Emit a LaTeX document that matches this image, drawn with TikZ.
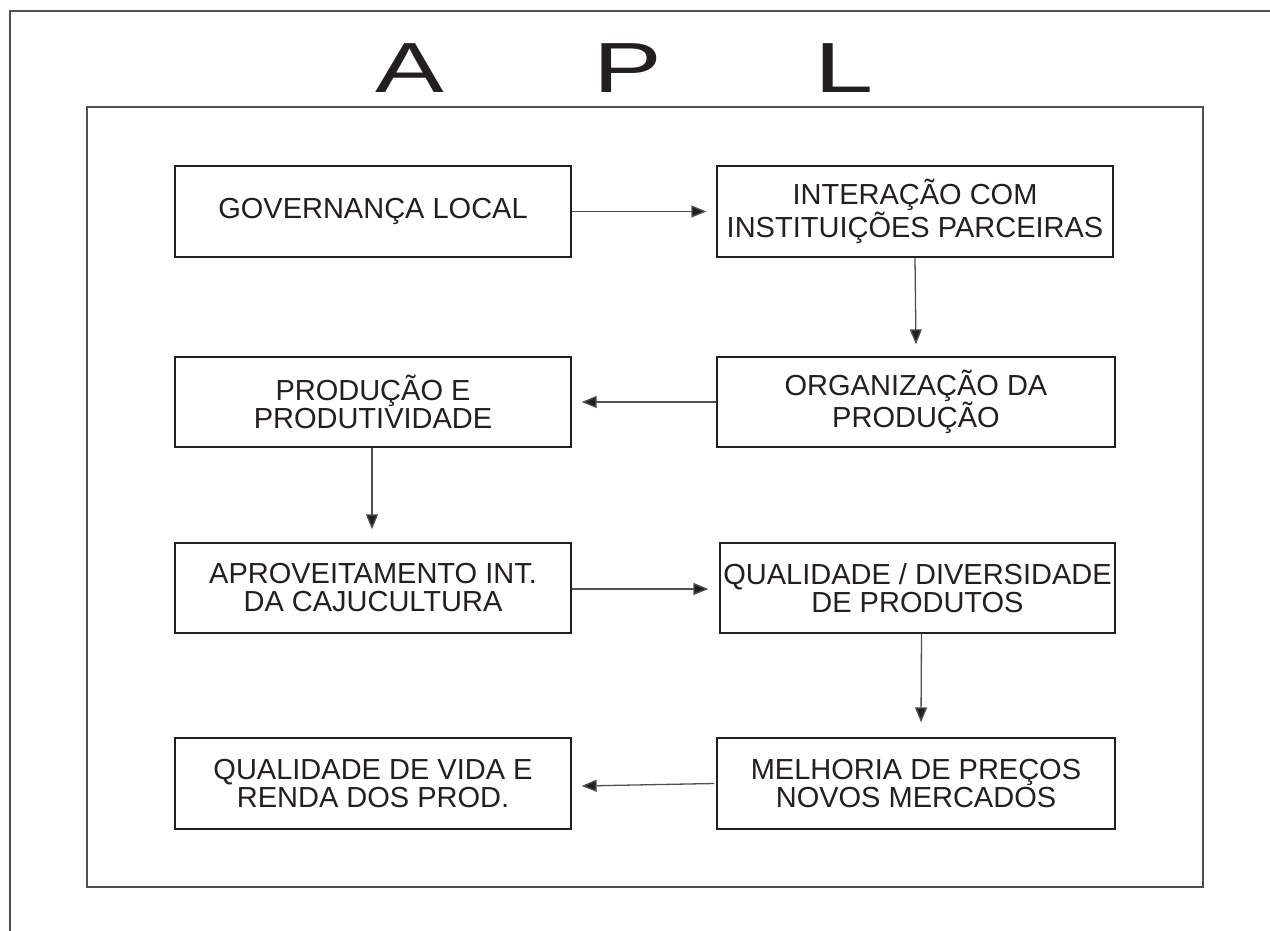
\documentclass[tikz,border=0pt]{standalone}
\usepackage{graphicx}
\usepackage{fontspec}
\setmainfont{Liberation Sans}
\usetikzlibrary{arrows.meta}
\definecolor{ink}{HTML}{231F20}
\definecolor{rule}{HTML}{505050}
\tikzset{
  stepbox/.style={draw=ink, line width=1.3pt, minimum width=396pt, minimum height=91pt,
    align=center, inner sep=0pt, text=ink, font=\fontsize{29}{28}\selectfont},
  titlechar/.style={anchor=base, text=ink, inner sep=0pt, font=\fontsize{71}{71}\selectfont},
  link/.style={draw=rule, line width=1.3pt, -{Triangle[length=15pt,width=12pt,fill=ink]}},
  frame/.style={draw=rule, line width=1.3pt}
}
\begin{document}
\begin{tikzpicture}[x=1pt,y=-1pt]
\useasboundingbox (0,0) rectangle (1270,931);
% outer frame (only top and left sides visible)
\coordinate (o1) at (10,931);
\coordinate (o2) at (10,11);
\coordinate (o3) at (1270,11);
\draw[frame] (o1) -- (o2) -- (o3);
% inner frame
\coordinate (f1) at (87,107);
\coordinate (f2) at (1203,887);
\draw[frame] (f1) rectangle (f2);
% title
\node[titlechar] (tA) at (410,93) {\scalebox{1.45}[1]{A}};
\node[titlechar] (tP) at (628,93) {\scalebox{1.45}[1]{P}};
\node[titlechar] (tL) at (844,93) {\scalebox{1.5}[1]{L}};
% boxes
\node[stepbox] (b1) at (373,211.5) {GOVERNANÇA LOCAL};
\node[stepbox] (b2) at (915,211.5) {INTERAÇÃO COM\\INSTITUIÇÕES PARCEIRAS};
\node[stepbox, minimum width=398pt, minimum height=90pt] (b3) at (916,402) {ORGANIZAÇÃO DA\\PRODUÇÃO};
\node[stepbox, minimum height=90pt] (b4) at (373,402) {PRODUÇÃO E\\PRODUTIVIDADE};
\node[stepbox, minimum height=90pt] (b5) at (373,588) {APROVEITAMENTO INT.\\DA CAJUCULTURA};
\node[stepbox, minimum width=395pt, minimum height=90pt] (b6) at (917.5,588) {QUALIDADE / DIVERSIDADE\\DE PRODUTOS};
\node[stepbox, minimum width=398pt] (b7) at (916,783.5) {MELHORIA DE PREÇOS\\NOVOS MERCADOS};
\node[stepbox] (b8) at (373,783.5) {QUALIDADE DE VIDA E\\RENDA DOS PROD.};
% connectors
\draw[link] (b1.east) -- ([xshift=-10pt]b2.west);
\draw[link] (b2.south) -- ([yshift=12pt]b3.north);
\draw[link] (b3.west) -- ([xshift=10pt]b4.east);
\draw[link] ([xshift=-1pt]b4.south) -- ([xshift=-1pt,yshift=13pt]b5.north);
\draw[link] ([yshift=-1pt]b5.east) -- ([xshift=-11pt,yshift=-1pt]b6.west);
\draw[link] ([xshift=4pt]b6.south) -- ([xshift=5pt,yshift=15pt]b7.north);
\draw[link] ([xshift=-2pt]b7.west) -- ([xshift=10pt,yshift=-2.5pt]b8.east);
\end{tikzpicture}
\end{document}
